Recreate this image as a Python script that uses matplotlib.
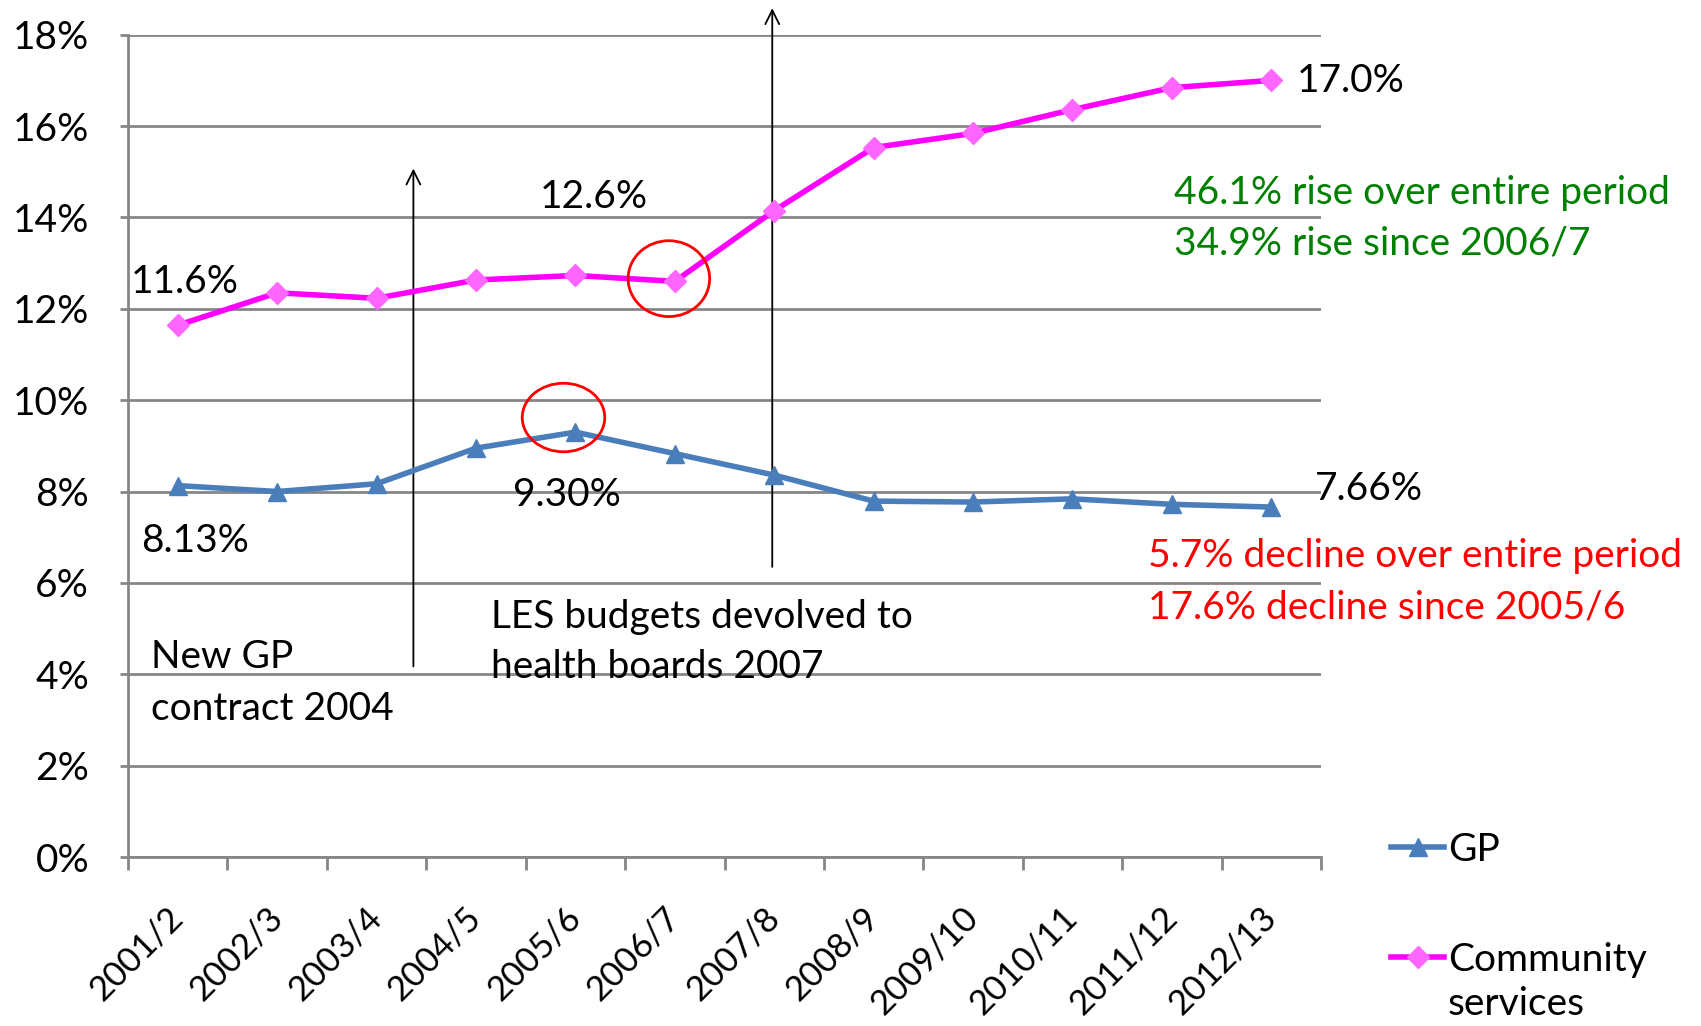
"""GP vs community services share of spend, 2001/2 - 2012/13."""

import matplotlib
matplotlib.use("Agg")
import matplotlib.pyplot as plt
from matplotlib.patches import Ellipse
from matplotlib.ticker import FuncFormatter, MultipleLocator

years = ["2001/2", "2002/3", "2003/4", "2004/5", "2005/6", "2006/7",
         "2007/8", "2008/9", "2009/10", "2010/11", "2011/12", "2012/13"]
gp = [8.13, 8.00, 8.17, 8.95, 9.30, 8.83, 8.36, 7.79, 7.77, 7.84, 7.72, 7.66]
community = [11.64, 12.35, 12.23, 12.63, 12.73, 12.60, 14.15, 15.53, 15.84,
             16.36, 16.84, 17.00]

plt.rcParams["font.family"] = ["Liberation Sans Narrow", "Lato", "DejaVu Sans"]
FS = 28

fig = plt.figure(figsize=(17.01, 10.26), dpi=100)
ax = fig.add_axes([0.0753, 0.1647, 0.7013, 0.8015])

x = list(range(len(years)))
ax.plot(x, gp, color="#4A7EBB", lw=4, marker="^", ms=13,
        mfc="#4A7EBB", mec="#4A7EBB", label="GP", zorder=4)
ax.plot(x, community, color="#FF00FF", lw=4, marker="D", ms=11,
        mfc="#FF66FF", mec="#FF66FF", label="Community", zorder=4)

ax.set_xlim(-0.5, len(years) - 0.5)
ax.set_ylim(0, 18)
ax.yaxis.set_major_locator(MultipleLocator(2))
ax.yaxis.set_major_formatter(FuncFormatter(lambda v, _: f"{v:.0f}%"))
ax.grid(axis="y", color="#868686", lw=2)
ax.set_axisbelow(True)

for s in ("top", "right"):
    ax.spines[s].set_visible(False)
for s in ("left", "bottom"):
    ax.spines[s].set_color("#868686")
    ax.spines[s].set_linewidth(2)

ax.set_xticks(x)
ax.set_xticklabels(years, rotation=45, ha="right", va="center",
                   rotation_mode="anchor", fontsize=25)
ax.tick_params(axis="x", which="major", length=0, pad=40)
ax.set_xticks([i - 0.5 for i in range(len(years) + 1)], minor=True)
ax.tick_params(axis="x", which="minor", length=9, width=2, color="#868686")
ax.tick_params(axis="y", length=6, width=2, color="#868686", pad=22,
               labelsize=FS)

# value labels
ax.text(-0.47, 12.59, "11.6%", fontsize=FS, va="center")
ax.text(3.64, 14.44, "12.6%", fontsize=FS, va="center")
ax.text(11.26, 16.98, "17.0%", fontsize=FS, va="center", clip_on=False)
ax.text(-0.37, 6.91, "8.13%", fontsize=FS, va="center")
ax.text(3.37, 7.93, "9.30%", fontsize=FS, va="center")
ax.text(11.44, 8.05, "7.66%", fontsize=FS, va="center", clip_on=False)

ax.text(10.02, 14.53, "46.1% rise over entire period", fontsize=FS,
        color="#008000", va="center", clip_on=False)
ax.text(10.02, 13.42, "34.9% rise since 2006/7", fontsize=FS,
        color="#008000", va="center", clip_on=False)
ax.text(9.76, 6.58, "5.7% decline over entire period", fontsize=FS,
        color="#FF0000", va="center", clip_on=False)
ax.text(9.76, 5.46, "17.6% decline since 2005/6", fontsize=FS,
        color="#FF0000", va="center", clip_on=False)

ax.text(3.15, 5.25, "LES budgets devolved to", fontsize=FS, va="center")
ax.text(3.15, 4.16, "health boards 2007", fontsize=FS, va="center")
ax.text(-0.27, 4.37, "New GP", fontsize=FS, va="center")
ax.text(-0.27, 3.25, "contract 2004", fontsize=FS, va="center")

# event arrows
ax.annotate("", xy=(2.37, 15.13), xytext=(2.37, 4.11),
            arrowprops=dict(arrowstyle="->", color="black", lw=1.3,
                            mutation_scale=25))
ax.annotate("", xy=(5.98, 18.64), xytext=(5.98, 6.29), annotation_clip=False,
            arrowprops=dict(arrowstyle="->", color="black", lw=1.3,
                            mutation_scale=25))

# highlight circles
ax.add_patch(Ellipse((4.94, 12.66), 0.82, 1.66, fill=False, ec="#FF0000",
                     lw=2, zorder=5))
ax.add_patch(Ellipse((3.88, 9.62), 0.83, 1.50, fill=False, ec="#FF0000",
                     lw=2, zorder=5))

leg = ax.legend(loc="upper left", bbox_to_anchor=(0.818, 0.189),
                bbox_transform=fig.transFigure, frameon=False, fontsize=FS,
                handlelength=1.35, handletextpad=0.1, labelspacing=1.9,
                borderpad=0, borderaxespad=0)

# second line of the "Community services" legend label
fig.canvas.draw()
bb = leg.get_texts()[1].get_window_extent().transformed(fig.transFigure.inverted())
fig.text(bb.x0, bb.y0 - 0.008, "services", fontsize=FS, va="top", ha="left")

fig.savefig("out.png", dpi=100)
